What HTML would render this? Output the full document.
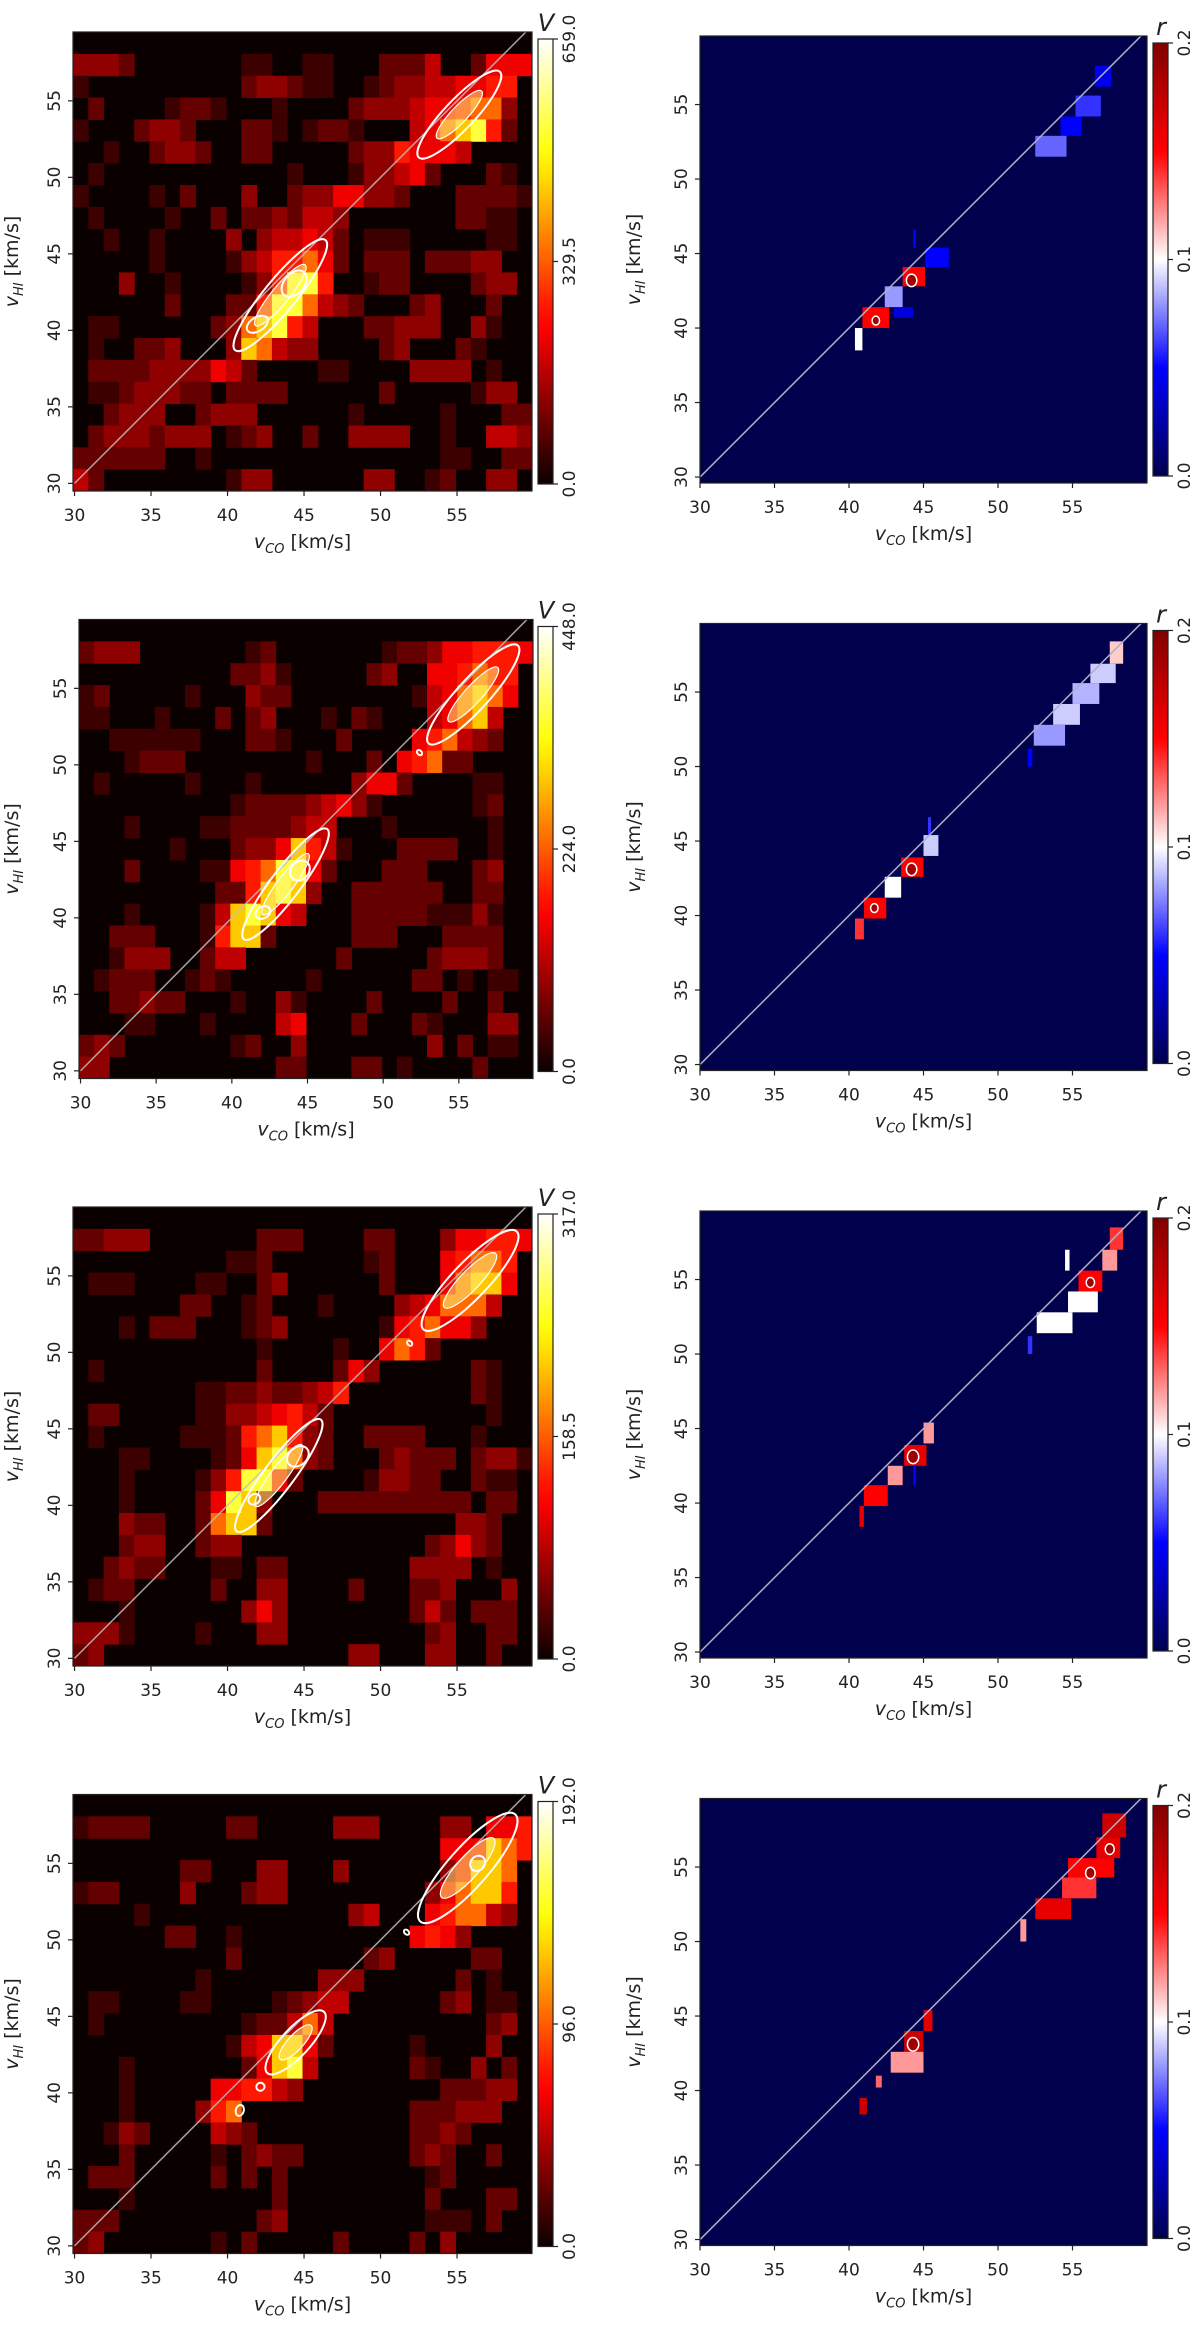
<!DOCTYPE html>
<html>
<head>
<meta charset="utf-8">
<style>
  html,body{margin:0;padding:0;background:#fff;}
  svg{display:block;}
  text{font-family:"DejaVu Sans","Liberation Sans",sans-serif;fill:#222;}
</style>
</head>
<body>
<svg id="fig" width="1200" height="2325" viewBox="0 0 1200 2325" xmlns="http://www.w3.org/2000/svg"></svg>
<script>
// ---------- DATA ----------
const heat1 = [
"000000000000000000000000000000",
"333200000001100110002224002555",
"100000000002332110012334455660",
"020000122100010000233345567730",
"100023320002210122100045789620",
"001002332002200000233655540000",
"010000000000001000133452000210",
"100001020003002335533200022221",
"010000100202232443000000022110",
"001001000030344542011100000110",
"000001000013466752022202223300",
"000300100001369960012200002330",
"000000200022699743200023000200",
"011000000237896400022333003100",
"010022300038743300002300021000",
"022223333542000011000033330100",
"011233322022220000002000001330",
"002333002333000000100000100022",
"023332333012300200333300100443",
"222222001000000000000000110022",
"420000000013300000033001200330"];
const heat2 = [
"000000000000000000000000000000",
"233300000001200000001223556665",
"000000000022310000023005567660",
"120000010003220000000014578750",
"110001000202300010210004578400",
"001111110002210002000056743200",
"000122200000000100020567220000",
"010000010001000000355200001100",
"000000000012222345310000001200",
"000100001122223440001000000100",
"000000100023358641000222200100",
"000200001156799520002220002300",
"000000000226898300222222002200",
"000100001489854000222221113100",
"002220001688200000222000222200",
"001333002440000002000002333200",
"012220012100000100000022010110",
"002232200010031000020000200200",
"000110001000045000200021000330",
"232000000012003000000003020110",
"330000000000022000220100002000"];
const heat3 = [
"000000000000000000000000000000",
"223330000000222000022000355665",
"000000000011200000012000567760",
"011100001100230000002000578850",
"000000022001200010000345777400",
"000102220001230000001567553000",
"000000000000100001005762000000",
"010000000000200002530000002100",
"000000001122322346000000002100",
"022000001133456420000000000100",
"010000011126786320022220001000",
"000110000125897320002322202331",
"000100001369952000013322002110",
"000100002598300022222222220220",
"000322002788200000000000033200",
"000233002330000000000002353200",
"002322000110220000000033330100",
"012200000200330000200022300030",
"000100000003530000000024202220",
"333100001000330000000002300220",
"230000000000000000330003300200"];
const heat4 = [
"000000000000000000000000000000",
"122220000022000003330000330556",
"000000000000000000000000555876",
"000000022000330003000000358870",
"122000030002330000000003578860",
"000010000000000000340005677430",
"000000220010000000000056530000",
"000000000020000000023000002200",
"000000001000000033300000020100",
"011000011000012344000000230110",
"010000000001224740000000000230",
"000000000014588520000010000300",
"000100000002589400000021003020",
"000100000556643000000000222330",
"000100003670000000000022233300",
"001320000432000000000022320000",
"000200000102322000000023200200",
"022200000202020000000001200000",
"000100000000020000000002000220",
"222000000000230000000001110200",
"230000000102000002000020300000"];

const vMax = [659.0, 448.0, 317.0, 192.0];

const blobs1 = [[40.5,38.7,46.4,45.9,1.6],[52.5,51.3,57.8,56.9,1.5],[41.3,40.0,42.6,40.8,0.7],[43.7,42.3,45.0,43.8,1.0]];
const blobs2 = [[40.8,38.6,46.3,45.8,1.5],[53.0,51.4,58.9,57.8,1.6],[52.3,50.7,52.5,50.9,0.3],[41.6,40.1,42.5,40.6,0.6],[44.0,42.6,45.0,43.6,0.9]];
const blobs3 = [[40.6,38.3,46.1,45.6,1.5],[52.8,51.5,58.9,57.9,1.8],[51.8,50.5,52.0,50.7,0.3],[41.4,40.2,42.1,40.6,0.5],[44.0,42.7,45.2,43.7,0.9]];
const blobs4 = [[42.6,41.3,46.3,45.3,1.4],[52.6,51.2,58.8,58.2,2.0],[40.7,38.5,40.9,39.2,0.4],[41.9,40.3,42.4,40.5,0.4],[51.6,50.4,51.8,50.6,0.3],[56.0,54.6,56.7,55.4,0.7]];

const rBlocks1 = [[56.5,57.6,56.2,57.6,0.045],[55.2,56.9,54.2,55.6,0.06],[54.2,55.6,52.9,54.2,0.05],[52.5,54.6,51.5,52.9,0.07],
 [45.1,46.7,44.1,45.4,0.05],[44.3,44.5,45.4,46.6,0.05],[43.6,45.1,42.8,44.1,0.15],[42.4,43.6,41.4,42.8,0.08],[43.0,44.3,40.7,41.4,0.04],
 [40.9,42.7,40.0,41.4,0.15],[40.4,40.9,38.5,40.0,0.1]];
const rBlocks2 = [[57.5,58.4,56.9,58.4,0.11],[56.2,57.9,55.6,56.9,0.09],[55.0,56.8,54.2,55.6,0.085],[53.7,55.5,52.8,54.2,0.09],
 [52.4,54.5,51.4,52.8,0.08],[52.0,52.3,50.0,51.2,0.05],[45.0,46.0,44.0,45.4,0.09],[45.3,45.5,45.4,46.6,0.06],[43.5,45.0,42.6,43.9,0.15],
 [42.4,43.5,41.2,42.6,0.1],[41.0,42.5,39.8,41.2,0.15],[40.4,41.0,38.4,39.8,0.14]];
const rBlocks3 = [[57.5,58.4,57.0,58.5,0.14],[57.0,58.0,55.6,57.0,0.12],[54.5,54.8,55.6,57.0,0.1],[55.4,57.0,54.2,55.6,0.15],
 [54.7,56.7,52.8,54.2,0.1],[52.6,55.0,51.4,52.8,0.1],[52.0,52.3,50.0,51.2,0.06],[45.0,45.7,44.0,45.4,0.12],[43.7,45.2,42.5,43.9,0.16],
 [42.6,43.6,41.2,42.5,0.12],[44.3,44.5,41.2,42.5,0.05],[41.0,42.6,39.8,41.2,0.15],[40.7,41.0,38.4,39.8,0.16]];
const rBlocks4 = [[57.0,58.6,57.0,58.6,0.17],[56.6,58.2,55.6,57.0,0.16],[54.7,57.8,54.3,55.6,0.15],[54.3,56.6,52.9,54.3,0.14],
 [52.5,54.9,51.5,52.9,0.16],[51.5,51.9,50.0,51.5,0.12],[45.0,45.6,44.0,45.4,0.16],[43.7,45.0,42.6,44.0,0.17],
 [42.8,45.0,41.2,42.6,0.12],[41.8,42.2,40.2,41.0,0.13],[40.7,41.2,38.4,39.5,0.17]];

const rCirc1 = [[44.2,43.2,0.35],[41.8,40.5,0.25]];
const rCirc2 = [[44.2,43.1,0.35],[41.7,40.5,0.25]];
const rCirc3 = [[44.3,43.1,0.38],[56.2,54.8,0.28]];
const rCirc4 = [[44.3,43.1,0.38],[56.2,54.6,0.32],[57.5,56.2,0.3]];

const xTicks = [30,35,40,45,50,55];
const yTicks = [30,35,40,45,50,55];
// intensity level -> colormap fraction
const levelT = [0,0.07,0.13,0.19,0.26,0.33,0.4,0.52,0.66,0.8];

// ---------- RENDER ----------
const NS = "http://www.w3.org/2000/svg";
const svg = document.getElementById('fig');
function mk(tag, attrs, parent){
  const e = document.createElementNS(NS, tag);
  for (const k in attrs) e.setAttribute(k, attrs[k]);
  (parent||svg).appendChild(e);
  return e;
}
function clamp(v){return Math.max(0,Math.min(1,v));}
function hot(t){
  const r = clamp(0.0416 + t/0.365), g = clamp((t-0.365)/0.375), b = clamp((t-0.74)/0.26);
  return `rgb(${Math.round(r*255)},${Math.round(g*255)},${Math.round(b*255)})`;
}
function seismic(v){
  const t = clamp(v/0.2);
  let r,g,b;
  if (t<0.25){const s=t/0.25; r=0;g=0;b=0.3+0.7*s;}
  else if (t<0.5){const s=(t-0.25)/0.25; r=s;g=s;b=1;}
  else if (t<0.75){const s=(t-0.5)/0.25; r=1;g=1-s;b=1-s;}
  else {const s=(t-0.75)/0.25; r=1-0.5*s;g=0;b=0;}
  return `rgb(${Math.round(r*255)},${Math.round(g*255)},${Math.round(b*255)})`;
}

const heats = [heat1,heat2,heat3,heat4];
const blobsAll = [blobs1,blobs2,blobs3,blobs4];
const rBlocksAll = [rBlocks1,rBlocks2,rBlocks3,rBlocks4];
const rCircAll = [rCirc1,rCirc2,rCirc3,rCirc4];

const defs = mk('defs',{});
const gh = mk('linearGradient',{id:'gHot',x1:0,y1:1,x2:0,y2:0},defs);
for (let i=0;i<=20;i++){ mk('stop',{offset:(i/20),'stop-color':hot(i/20)},gh); }
const gs = mk('linearGradient',{id:'gSeis',x1:0,y1:1,x2:0,y2:0},defs);
for (let i=0;i<=20;i++){ mk('stop',{offset:(i/20),'stop-color':seismic(0.2*i/20)},gs); }

function yLabel(x, cy, parent, name){
  const t = mk('text',{x:0,y:0,'font-size':19,'text-anchor':'middle',transform:`translate(${x},${cy}) rotate(-90)`},parent);
  
  
  const a = mk('tspan',{'font-style':'italic'},t); a.textContent='v';
  const b = mk('tspan',{'font-style':'italic','font-size':13,dy:5},t); b.textContent='HI';
  const c = mk('tspan',{dy:-5},t); c.textContent=' [km/s]';
}
function xLabel(cx, y, parent, name){
  const t = mk('text',{x:cx,y:y,'font-size':19,'text-anchor':'middle'},parent);
  
  
  const a = mk('tspan',{'font-style':'italic'},t); a.textContent='v';
  const b = mk('tspan',{'font-style':'italic','font-size':13,dy:5},t); b.textContent='CO';
  const c = mk('tspan',{dy:-5},t); c.textContent=' [km/s]';
}

function axes(g, L, T, W, H, xd, yd, pre){
  const sx = v => L + (v-xd[0])/(xd[1]-xd[0])*W;
  const sy = v => T + H - (v-yd[0])/(yd[1]-yd[0])*H;
  mk('rect',{x:L,y:T,width:W,height:H,fill:'none',stroke:'#222','stroke-width':1.2},g);
  xTicks.forEach(v=>{
    const x = sx(v);
    mk('line',{x1:x,y1:T+H,x2:x,y2:T+H+5,stroke:'#222','stroke-width':1.2},g);
    const t = mk('text',{x:x,y:T+H+30,'font-size':17,'text-anchor':'middle'},g);
    
    
    t.textContent = v;
  });
  yTicks.forEach(v=>{
    const y = sy(v);
    mk('line',{x1:L-5,y1:y,x2:L,y2:y,stroke:'#222','stroke-width':1.2},g);
    const t = mk('text',{x:0,y:0,'font-size':17,'text-anchor':'middle',transform:`translate(${L-13},${y}) rotate(-90)`},g);
    
    
    t.textContent = v;
  });
}

function colorbar(g, x, T, H, grad, labels, sym, pre){
  const r = mk('rect',{x:x,y:T,width:15,height:H,fill:`url(#${grad})`,stroke:'#222','stroke-width':1.2},g);
  
  
  labels.forEach((lab,i)=>{
    const y = T + H - i/(labels.length-1)*H;
    mk('line',{x1:x+15,y1:y,x2:x+20,y2:y,stroke:'#222','stroke-width':1.2},g);
    const t = mk('text',{x:0,y:0,'font-size':17,'text-anchor':'middle',transform:`translate(${x+37},${y}) rotate(-90)`},g);
    
    
    t.textContent = lab;
  });
  const s = mk('text',{x:x+8,y:T-8,'font-size':24,'font-style':'italic','text-anchor':'middle'},g);
  
  
  s.textContent = sym;
}

for (let k=0;k<4;k++){
  const gL = mk('g',{});
  
  
  const L = (k===1)?79:73, W = (k===1)?454:459, T = 32 + 587.5*k, H = 459;
  const xd=[29.9,59.9], yd=[29.5,59.5];
  const clipId = 'clipL'+k;
  const cp = mk('clipPath',{id:clipId},defs); mk('rect',{x:L,y:T,width:W,height:H},cp);
  const sxL = v => L + (v-xd[0])/(xd[1]-xd[0])*W;
  const syL = v => T + H - (v-yd[0])/(yd[1]-yd[0])*H;
  const cells = mk('g',{'clip-path':`url(#${clipId})`},gL);
  mk('rect',{x:L,y:T,width:W,height:H,fill:hot(0)},cells);
  const rows = heats[k];
  const bandH = (yd[1]-yd[0])/rows.length;
  rows.forEach((row,ri)=>{
    const y1 = yd[1]-ri*bandH, y0 = y1-bandH;
    for (let ci=0; ci<row.length; ci++){
      const d = +row[ci];
      if (!d) continue;
      const x0 = xd[0]+ci, x1 = x0+1;
      const c = mk('rect',{x:sxL(x0),y:syL(y1),width:sxL(x1)-sxL(x0)+0.5,height:syL(y0)-syL(y1)+0.5,fill:hot(levelT[d])},cells);
      
      
    }
  });
  mk('line',{x1:sxL(30),y1:syL(30),x2:sxL(60),y2:syL(60),stroke:'#c0c0c0','stroke-width':1.5,'stroke-opacity':0.85},cells);
  blobsAll[k].forEach(b=>{
    const cx = (sxL(b[0])+sxL(b[2]))/2, cy = (syL(b[1])+syL(b[3]))/2;
    const dx = sxL(b[2])-sxL(b[0]), dy = syL(b[3])-syL(b[1]);
    const len = Math.sqrt(dx*dx+dy*dy)/2, ang = Math.atan2(dy,dx)*180/Math.PI;
    const wpx = b[4]*0.65*(W/30);
    const e = mk('ellipse',{cx:0,cy:0,rx:len,ry:wpx,fill:'none',stroke:'#fff','stroke-width':2,transform:`translate(${cx},${cy}) rotate(${ang})`},cells);
    
    
    if (len>25){
      const e2 = mk('ellipse',{cx:0,cy:0,rx:len*0.55,ry:wpx*0.55,fill:'rgba(255,240,120,0.55)',stroke:'#fff','stroke-width':1.2,transform:`translate(${cx},${cy}) rotate(${ang})`},cells);
      
      
    }
  });
  axes(gL, L, T, W, H, xd, yd, 'left-'+(k+1));
  yLabel(18, T+H/2, gL, 'y-axis-title');
  xLabel(L+W/2, T+H+57, gL, 'x-axis-title');
  const vm = vMax[k];
  colorbar(gL, 538, T+7, H-14, 'gHot', ['0.0',(vm/2).toFixed(1),vm.toFixed(1)], 'V', 'v');

  const gR = mk('g',{});
  
  
  const RL = 700, RT = 36 + 587.5*k, RW = 447, RH = 447;
  const xr=[30,60], yr=[29.6,59.6];
  const sxR = v => RL + (v-xr[0])/(xr[1]-xr[0])*RW;
  const syR = v => RT + RH - (v-yr[0])/(yr[1]-yr[0])*RH;
  const clipR = 'clipR'+k;
  const cpr = mk('clipPath',{id:clipR},defs); mk('rect',{x:RL,y:RT,width:RW,height:RH},cpr);
  const rg = mk('g',{'clip-path':`url(#${clipR})`},gR);
  mk('rect',{x:RL,y:RT,width:RW,height:RH,fill:seismic(0)},rg);
  rBlocksAll[k].forEach(b=>{
    const c = mk('rect',{x:sxR(b[0]),y:syR(b[3]),width:sxR(b[1])-sxR(b[0]),height:syR(b[2])-syR(b[3]),fill:seismic(b[4])},rg);
    
    
  });
  mk('line',{x1:sxR(30),y1:syR(30),x2:sxR(60),y2:syR(60),stroke:'#b0b0c8','stroke-width':1.5},rg);
  rCircAll[k].forEach(c=>{
    const e = mk('ellipse',{cx:sxR(c[0]),cy:syR(c[1]),rx:c[2]*RW/30,ry:c[2]*RW/30*1.2,fill:'#a00000',stroke:'#fff','stroke-width':1.5},rg);
    
    
  });
  axes(gR, RL, RT, RW, RH, xr, yr, 'right-'+(k+1));
  yLabel(640, RT+RH/2, gR, 'y-axis-title');
  xLabel(RL+RW/2, RT+RH+57, gR, 'x-axis-title');
  colorbar(gR, 1153, RT+7, RH-14, 'gSeis', ['0.0','0.1','0.2'], 'r', 'r');
}
</script>
</body>
</html>
